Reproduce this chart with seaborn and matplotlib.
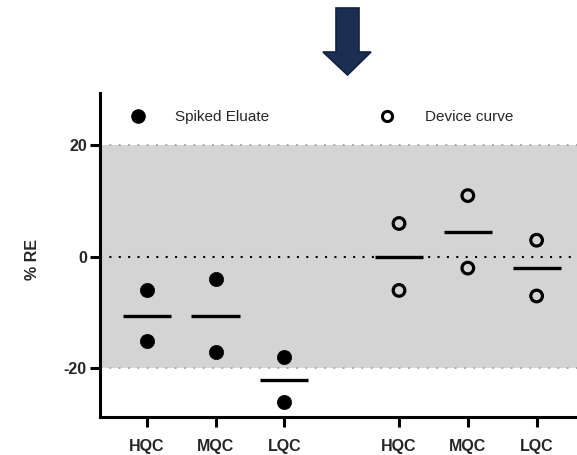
import numpy as np
import pandas as pd
import matplotlib
matplotlib.use("Agg")
import matplotlib.pyplot as plt
from matplotlib.patches import Polygon
from matplotlib.lines import Line2D
import seaborn as sns

# QC levels and the two replicate %RE values per level
levels = ["HQC", "MQC", "LQC"]
series_names = ["Spiked Eluate", "Device curve"]
spiked_values = [[-6, -15], [-4, -17], [-18, -26]]
device_values = [[6, -6], [11, -2], [3, -7]]
ytick_values = [-20, 0, 20]
acceptance_limit = 20

sns.set_theme(style="ticks")
plt.rcParams["font.family"] = ["Liberation Sans", "DejaVu Sans"]

# long-format table; the second group sits to the right of the first with a gap
group_offset = {series_names[0]: 0.0, series_names[1]: len(levels) + 0.667}
rows = []
for name, vals in zip(series_names, [spiked_values, device_values]):
    for i, (lvl, reps) in enumerate(zip(levels, vals)):
        for v in reps:
            rows.append({"series": name, "level": lvl,
                         "pos": i + group_offset[name], "RE": v})
df = pd.DataFrame(rows)

fig = plt.figure(figsize=(5.77, 4.55), dpi=100)
ax = fig.add_axes([100 / 577, 1 - 417 / 455, 477 / 577, (417 - 93) / 455])

# acceptance band and reference lines
ax.axhspan(-acceptance_limit, acceptance_limit, color="#d4d4d4", zorder=0, lw=0)
for yv in (-acceptance_limit, acceptance_limit):
    ax.axhline(yv, color="#a8a8a8", lw=1.4, ls=(0, (1, 3.8)), zorder=1)
ax.axhline(0, color="black", lw=1.5, ls=(0, (1, 3.5)), zorder=1)

spiked = df[df["series"] == series_names[0]]
device = df[df["series"] == series_names[1]]
sns.scatterplot(data=spiked, x="pos", y="RE", ax=ax, marker="o", s=105,
                color="black", edgecolor="black", linewidth=0.5, zorder=3,
                legend=False)
sns.scatterplot(data=device, x="pos", y="RE", ax=ax, marker="o", s=70,
                facecolor="none", edgecolor="black", linewidth=2.3, zorder=3,
                legend=False)

# mean bars
means = df.groupby(["series", "pos"], sort=False)["RE"].mean().reset_index()
ax.hlines(means["RE"], means["pos"] - 0.35, means["pos"] + 0.35,
          color="black", lw=2.4, zorder=2)

ticks = sorted(df["pos"].unique())
ax.set_xticks(ticks)
ax.set_xticklabels(levels * 2, fontweight="bold", fontsize=11.5)
ax.set_yticks(ytick_values)
ax.set_yticklabels([str(v) for v in ytick_values], fontweight="bold", fontsize=11.5)
ax.set_xlim(-0.679, 6.254)
ax.set_ylim(-28.7, 29.4)
ax.set_xlabel("")
ax.set_ylabel("% RE", fontweight="bold", fontsize=11.5)
ax.yaxis.set_label_coords(-0.126, 0.486)

for side in ("top", "right"):
    ax.spines[side].set_visible(False)
for side in ("left", "bottom"):
    ax.spines[side].set_linewidth(2.2)
    ax.spines[side].set_color("black")
ax.tick_params(axis="both", length=7, width=2.2, color="black")
ax.tick_params(axis="x", pad=9)
ax.tick_params(axis="y", pad=2.5)
ax.set_facecolor("white")

handles = [
    Line2D([], [], ls="none", marker="o", ms=9.5, mfc="black", mec="black"),
    Line2D([], [], ls="none", marker="o", ms=7.3, mfc="none", mec="black", mew=2.2),
]
ax.legend(handles, series_names, loc="center left",
          bbox_to_anchor=(30 / 477, (417 - 117) / 324), ncol=2, frameon=False,
          borderpad=0, borderaxespad=0, handlelength=1.0, handletextpad=1.96,
          columnspacing=7.2, prop={"size": 11})

# downward arrow above the chart
def px(x, y):
    return (x / 577, 1 - y / 455)

arrow_pts = [px(336, 8), px(359, 8), px(359, 52), px(371, 52), px(347.5, 75),
             px(323, 52), px(336, 52)]
fig.patches.append(Polygon(arrow_pts, closed=True, transform=fig.transFigure,
                           facecolor="#1c2e52", edgecolor="#142240", lw=1.2))

fig.savefig("out.png", dpi=100)
